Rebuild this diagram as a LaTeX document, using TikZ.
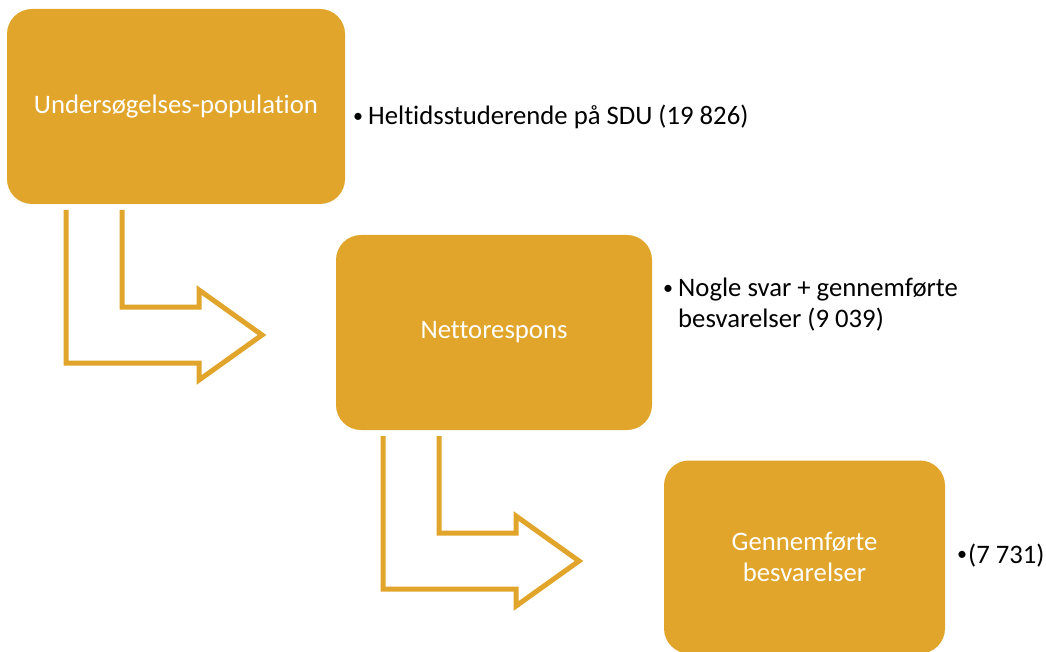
\documentclass[tikz,border=0pt]{standalone}
\usepackage{fontspec}
\setmainfont{Carlito}[Ligatures=NoCommon]
\usetikzlibrary{positioning}
\definecolor{gold}{RGB}{224,165,42}
\newcommand{\bul}{\makebox[15pt][l]{\raisebox{0.08em}{\scalebox{0.75}{\textbullet}}}}
\tikzset{stage/.style={fill=gold, draw=none, rounded corners=25pt, text=white, align=center, inner sep=0pt},
  note/.style={anchor=base west, align=left, inner sep=0pt},
  bent/.style={draw=gold, line width=5pt, miter limit=20}}

\begin{document}
\begin{tikzpicture}[x=1pt, y=-1pt, font=\fontsize{26.7}{30.5}\selectfont]
  \useasboundingbox (0,0) rectangle (1046,652);
  \node[stage, minimum width=338pt, minimum height=195pt] (pop)  at (176,106.5) {Undersøgelses-population};
  \node[stage, minimum width=316pt, minimum height=195pt] (net)  at (494,332.5) {Nettorespons};
  \node[stage, minimum width=281pt, minimum height=193pt] (done) at (804.5,557) {Gennemførte\\besvarelser};
  % bullet texts
  \node[note] (popnote)  at (353,125) {\bul Heltidsstuderende på SDU (19 826)};
  \node[note] (netnote)  at (663,327) {\bul Nogle svar + gennemførte\\\hspace*{15pt}besvarelser (9 039)};
  \node[note] (donenote) at (957,563) {\makebox[11pt][l]{\raisebox{0.08em}{\scalebox{0.75}{\textbullet}}}(7 731)};
  % bent arrows between stages
  \foreach \x/\y in {66/210, 383/436}{
    \draw[bent, shift={(\x,\y)}] (56,0) -- (56,97) -- (133,97) -- (133,80) -- (196,125)
      -- (133,170) -- (133,153) -- (0,153) -- (0,0);}
\end{tikzpicture}
\end{document}
